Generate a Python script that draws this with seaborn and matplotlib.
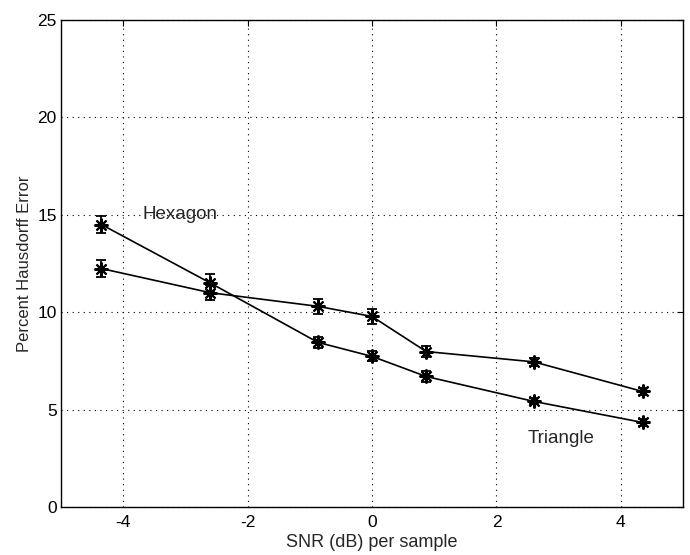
import matplotlib
matplotlib.use("Agg")
import matplotlib.pyplot as plt
import seaborn as sns
import pandas as pd

snr = [-4.35, -2.6, -0.87, 0.0, 0.87, 2.6, 4.35]
hexagon = [14.5, 11.5, 8.45, 7.73, 6.7, 5.42, 4.34]
hexagon_err = [0.45, 0.45, 0.3, 0.26, 0.28, 0.15, 0.2]
triangle = [12.24, 11.0, 10.3, 9.78, 7.98, 7.45, 5.93]
triangle_err = [0.44, 0.4, 0.4, 0.4, 0.26, 0.19, 0.2]
x_ticks = [-4, -2, 0, 2, 4]
y_ticks = [0, 5, 10, 15, 20, 25]

df = pd.DataFrame({
    "snr": snr * 2,
    "err": hexagon + triangle,
    "sd": hexagon_err + triangle_err,
    "shape": ["Hexagon"] * len(snr) + ["Triangle"] * len(snr),
})

sns.set_style("white")
plt.rcParams['font.family'] = ['Liberation Sans', 'DejaVu Sans']

fig = plt.figure(figsize=(6.9, 5.55), dpi=100)
ax = fig.add_axes([0.0884, 0.0865, 0.9016, 0.8775])

sns.lineplot(data=df, x="snr", y="err", units="shape", estimator=None,
             color="black", linewidth=1.2, marker=(8, 2, 0), markersize=10,
             markeredgewidth=1.5, markeredgecolor="black", ax=ax, legend=False)
for name in ["Hexagon", "Triangle"]:
    sub = df[df["shape"] == name]
    ax.errorbar(sub["snr"], sub["err"], yerr=sub["sd"], fmt="none",
                ecolor="black", elinewidth=1.2, capsize=3.8, capthick=1.3)

ax.text(-3.69, 15.0, "Hexagon", fontsize=13.5, va="center", ha="left")
ax.text(2.5, 3.5, "Triangle", fontsize=13.5, va="center", ha="left")

ax.set_xlim(-5, 5)
ax.set_ylim(0, 25)
ax.set_xticks(x_ticks)
ax.set_yticks(y_ticks)
ax.set_xticklabels([str(t) for t in x_ticks])
ax.set_yticklabels([str(t) for t in y_ticks])
ax.grid(True, linestyle=(0, (1, 4)), color="black", linewidth=0.8)
ax.tick_params(direction="in", length=4, width=0.8, top=True, right=True,
               labelsize=12.5, colors="black")
ax.tick_params(axis="x", pad=6)
ax.tick_params(axis="y", pad=3)
for s in ax.spines.values():
    s.set_color("black")
    s.set_linewidth(1.0)
ax.set_xlabel("SNR (dB) per sample", fontsize=13, labelpad=3)
ax.set_ylabel("Percent Hausdorff Error", fontsize=12, labelpad=4)

fig.savefig("out.png", dpi=100)
